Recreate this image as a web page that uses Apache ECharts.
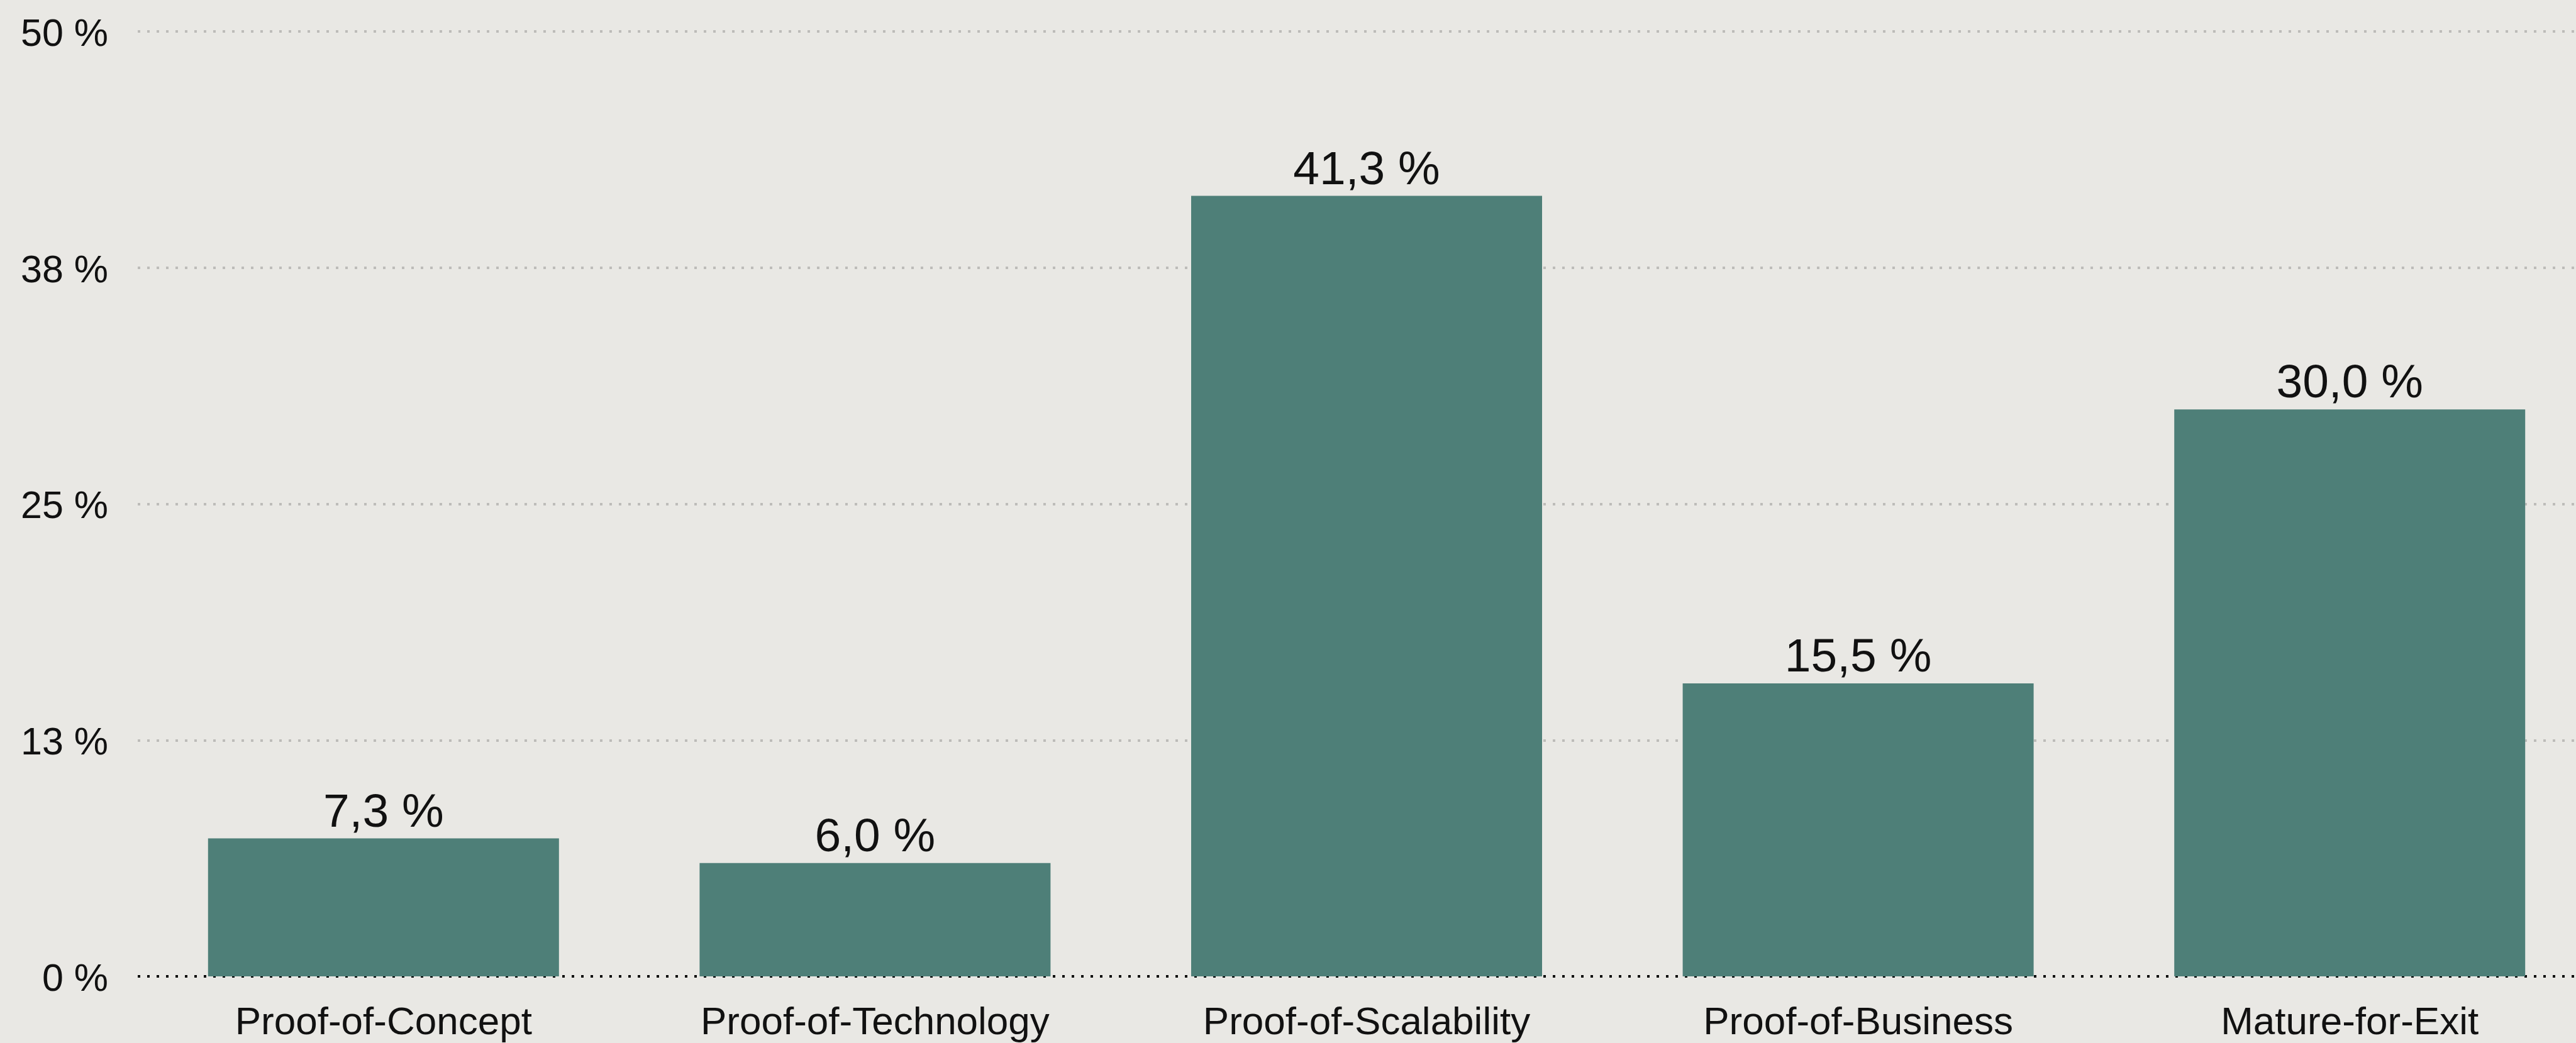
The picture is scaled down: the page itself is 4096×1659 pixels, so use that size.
<!DOCTYPE html>
<html>
<head>
<meta charset="utf-8">
<script src="https://cdn.jsdelivr.net/npm/echarts@6/dist/echarts.min.js"></script>
<style>
html,body{margin:0;padding:0;background:#e9e8e4;overflow:hidden;width:4096px;height:1659px;}
#chart{width:4127px;height:1659px;}
</style>
</head>
<body>
<div id="chart"></div>
<script>
const categories = ["Proof-of-Concept", "Proof-of-Technology", "Proof-of-Scalability", "Proof-of-Business", "Mature-for-Exit"];
const values = [7.3, 6.0, 41.3, 15.5, 30.0];
const yMin = 0, yMax = 50, yInterval = 12.5;

const chart = echarts.init(document.getElementById('chart'), null, {renderer: 'canvas'});
const font = '"Liberation Sans", Arial, Helvetica, sans-serif';
chart.setOption({
  backgroundColor: '#e9e8e4',
  animation: false,
  grid: {left: 219, right: 0, top: 50, bottom: 106, containLabel: false},
  xAxis: {
    type: 'category',
    data: categories,
    axisTick: {show: false},
    axisLine: {show: true, lineStyle: {color: '#000', width: 4, type: [4, 11], cap: 'butt'}},
    axisLabel: {color: '#111', fontSize: 62, fontFamily: font, margin: 44, interval: 0}
  },
  yAxis: {
    type: 'value',
    min: yMin, max: yMax, interval: yInterval,
    axisLine: {show: false},
    axisTick: {show: false},
    axisLabel: {color: '#111', fontSize: 61, fontFamily: font, margin: 47,
      formatter: v => '{a|' + Math.round(v) + ' %}',
      rich: {a: {color: '#111', fontSize: 61, fontFamily: font, padding: [12, 0, 0, 0]}}},
    splitLine: {show: true, lineStyle: {color: '#bdbcb9', width: 4, type: [4, 11], cap: 'butt'}}
  },
  series: [{
    type: 'bar',
    data: values,
    barWidth: 558,
    itemStyle: {color: '#4e7f78'},
    label: {show: true, position: 'top', distance: 2, color: '#111', fontSize: 75, fontFamily: font,
      formatter: p => p.value.toFixed(1).replace('.', ',') + ' %'}
  }]
});
</script>
</body>
</html>
